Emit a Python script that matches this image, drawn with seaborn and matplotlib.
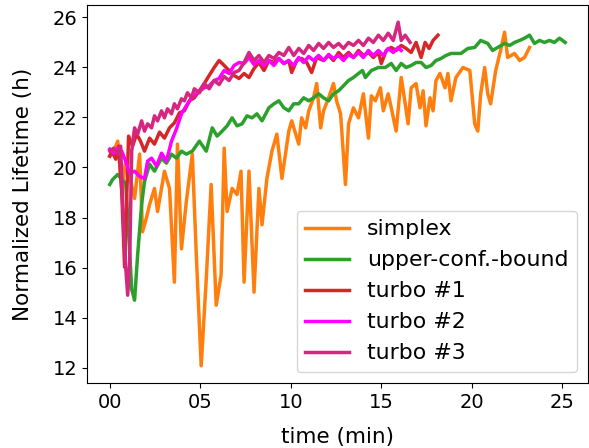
import numpy as np
import pandas as pd
import matplotlib
matplotlib.use("Agg")
import matplotlib.pyplot as plt
import seaborn as sns

# ---------------- data ----------------
simplex_t = [0.00, 0.22, 0.44, 0.66, 0.88, 1.10, 1.37, 1.65, 1.81, 2.03, 2.20, 2.47, 2.64, 3.02, 3.30,
             3.57, 3.74, 3.96, 4.23, 4.56, 4.78, 5.05, 5.33, 5.60, 5.88, 6.15, 6.32, 6.48, 6.76, 7.03,
             7.25, 7.42, 7.69, 7.97, 8.24, 8.41, 8.68, 8.96, 9.23, 9.51, 9.89, 10.05, 10.44, 10.60,
             10.82, 10.99, 11.26, 11.43, 11.65, 11.81, 12.09, 12.36, 12.53, 12.75, 13.02, 13.19, 13.46,
             13.74, 14.01, 14.29, 14.45, 14.67, 14.95, 15.11, 15.38, 15.55, 15.82, 16.10, 16.32, 16.48,
             16.65, 16.92, 17.14, 17.31, 17.47, 17.69, 17.86, 18.02, 18.24, 18.52, 18.68, 18.85, 19.12,
             19.51, 19.89, 20.16, 20.33, 20.49, 20.71, 20.88, 21.04, 21.32, 21.59, 21.81, 21.98, 22.36,
             22.64, 22.91, 23.19]
simplex_v = [20.45, 20.65, 21.05, 19.16, 20.25, 19.64, 18.76, 20.53, 17.43, 18.00, 18.52, 19.16, 18.24,
             19.85, 19.16, 15.42, 20.93, 16.75, 18.64, 20.53, 16.51, 12.08, 15.54, 19.32, 14.50, 15.70,
             20.77, 18.24, 19.16, 18.92, 19.85, 15.42, 19.85, 15.02, 19.16, 17.71, 19.56, 20.65, 21.33,
             19.56, 21.45, 21.86, 20.93, 21.98, 21.58, 22.26, 22.78, 23.35, 21.58, 22.26, 22.78, 23.35,
             22.66, 22.14, 19.32, 21.74, 22.38, 21.98, 22.94, 21.17, 22.86, 22.66, 23.18, 22.26, 22.94,
             22.38, 21.45, 23.59, 22.54, 21.74, 23.18, 23.35, 22.38, 23.06, 21.66, 22.78, 22.26, 23.47,
             23.75, 23.18, 23.75, 22.66, 23.59, 23.99, 23.87, 21.74, 21.45, 22.94, 23.99, 22.94, 22.54,
             23.87, 24.67, 25.40, 24.39, 24.55, 24.27, 24.39, 24.79]

ucb_t = [0.00, 0.16, 0.44, 0.66, 0.88, 1.04, 1.21, 1.37, 1.54, 1.76, 1.92, 2.20, 2.47, 2.86, 3.13, 3.41,
         3.68, 3.96, 4.23, 4.56, 4.95, 5.33, 5.66, 5.93, 6.21, 6.48, 6.76, 7.03, 7.31, 7.58, 7.86, 8.13,
         8.41, 8.79, 9.07, 9.34, 9.62, 9.89, 10.16, 10.44, 10.71, 10.99, 11.26, 11.54, 11.81, 12.09,
         12.36, 12.64, 12.91, 13.19, 13.46, 13.74, 13.96, 14.12, 14.45, 14.84, 15.22, 15.55, 15.82,
         16.10, 16.37, 16.65, 16.92, 17.20, 17.47, 17.75, 18.02, 18.30, 18.57, 18.85, 19.07, 19.40,
         19.78, 20.16, 20.49, 20.88, 21.15, 21.43, 21.81, 22.09, 22.36, 22.64, 22.91, 23.19, 23.46,
         23.74, 24.01, 24.29, 24.56, 24.84, 25.16]
ucb_v = [19.32, 19.52, 19.72, 19.52, 19.36, 17.43, 15.14, 14.70, 16.51, 18.52, 19.44, 20.13, 19.85,
         20.37, 20.17, 20.53, 20.37, 20.65, 20.53, 20.65, 21.05, 20.65, 21.58, 21.25, 21.45, 21.66,
         21.98, 21.66, 21.74, 22.06, 21.98, 22.14, 21.86, 22.38, 22.54, 22.66, 22.38, 22.26, 22.54,
         22.54, 22.78, 22.66, 22.78, 22.94, 22.78, 22.66, 22.94, 23.06, 23.26, 23.47, 23.59, 23.75,
         23.87, 23.59, 23.87, 23.99, 23.99, 24.15, 23.87, 24.15, 23.99, 24.07, 24.19, 24.19, 23.99,
         24.07, 24.27, 24.35, 24.47, 24.55, 24.55, 24.55, 24.75, 24.79, 25.07, 24.95, 24.67, 24.79,
         24.95, 24.87, 24.99, 25.07, 25.16, 25.28, 24.95, 25.07, 24.99, 25.07, 24.99, 25.16, 24.99]

turbo1_t = [0.00, 0.11, 0.33, 0.49, 0.66, 0.82, 0.93, 1.04, 1.26, 1.48, 1.70, 1.92, 2.20, 2.47, 2.75,
            3.02, 3.30, 3.57, 3.85, 4.12, 4.40, 4.67, 4.95, 5.22, 5.49, 5.77, 6.04, 6.32, 6.59, 6.87,
            7.14, 7.42, 7.69, 7.97, 8.24, 8.52, 8.79, 9.07, 9.34, 9.62, 9.89, 10.05, 10.33, 10.60,
            10.88, 11.15, 11.43, 11.81, 12.09, 12.36, 12.64, 12.91, 13.19, 13.46, 13.74, 14.01, 14.29,
            14.56, 14.84, 15.00, 15.27, 15.55, 15.82, 16.10, 16.37, 16.65, 16.92, 17.20, 17.42, 17.64,
            17.86, 18.13]
turbo1_v = [20.45, 20.65, 20.33, 20.85, 19.04, 16.02, 18.64, 21.25, 20.85, 21.33, 21.05, 20.65, 21.17,
            20.93, 21.41, 21.17, 21.58, 21.78, 22.18, 22.26, 22.66, 22.78, 23.06, 23.35, 23.67, 23.99,
            24.27, 24.07, 23.87, 23.67, 23.55, 23.75, 23.59, 23.95, 24.19, 23.87, 24.27, 24.19, 24.35,
            24.15, 24.27, 23.79, 24.27, 24.35, 24.19, 23.79, 24.39, 24.27, 24.47, 24.27, 24.59, 24.39,
            24.59, 24.39, 24.67, 24.47, 24.59, 24.39, 24.59, 24.15, 24.67, 24.79, 24.67, 24.87, 24.75,
            24.59, 24.99, 24.39, 24.99, 24.75, 25.07, 25.28]

turbo2_t = [0.00, 0.22, 0.44, 0.66, 0.88, 1.10, 1.37, 1.65, 1.92, 2.09, 2.31, 2.58, 2.86, 3.13, 3.41,
            3.68, 3.96, 4.23, 4.51, 4.84, 5.22, 5.49, 5.77, 6.04, 6.32, 6.59, 6.87, 7.14, 7.42, 7.69,
            7.97, 8.24, 8.52, 8.79, 9.07, 9.34, 9.62, 9.89, 10.16, 10.44, 10.71, 10.99, 11.26, 11.54,
            11.81, 12.09, 12.36, 12.64, 12.91, 13.19, 13.46, 13.74, 14.01, 14.29, 14.56, 14.84, 15.11,
            15.38, 15.66, 15.93, 16.10]
turbo2_v = [20.73, 20.57, 20.77, 20.65, 20.25, 19.76, 19.85, 19.64, 19.56, 20.25, 20.37, 20.05, 20.57,
            20.25, 21.05, 21.53, 22.14, 22.46, 22.78, 22.98, 23.18, 23.26, 23.47, 23.55, 23.87, 23.75,
            24.07, 24.19, 24.15, 24.39, 24.11, 24.27, 24.07, 24.27, 24.07, 24.35, 24.15, 24.27, 24.07,
            24.39, 24.19, 24.43, 24.27, 24.47, 24.27, 24.51, 24.35, 24.47, 24.27, 24.51, 24.39, 24.59,
            24.39, 24.67, 24.47, 24.67, 24.47, 24.75, 24.59, 24.79, 24.67]

turbo3_t = [0.00, 0.22, 0.44, 0.60, 0.71, 0.88, 0.99, 1.10, 1.21, 1.37, 1.54, 1.76, 1.92, 2.09, 2.31,
            2.47, 2.64, 2.86, 3.02, 3.19, 3.41, 3.57, 3.74, 3.96, 4.12, 4.29, 4.51, 4.67, 4.95, 5.22,
            5.49, 5.77, 6.04, 6.32, 6.59, 6.87, 7.14, 7.42, 7.69, 7.97, 8.24, 8.52, 8.79, 9.07, 9.34,
            9.62, 9.89, 10.16, 10.44, 10.71, 10.99, 11.26, 11.54, 11.81, 12.09, 12.36, 12.64, 12.91,
            13.19, 13.46, 13.74, 14.01, 14.29, 14.56, 14.84, 15.11, 15.38, 15.66, 15.93, 16.10, 16.32,
            16.59]
turbo3_v = [20.65, 20.77, 20.53, 20.85, 18.64, 16.02, 14.90, 16.20, 20.65, 21.58, 21.33, 21.86, 21.45,
            21.74, 21.58, 22.06, 21.86, 22.26, 21.98, 22.34, 22.14, 22.54, 22.34, 22.74, 22.66, 22.98,
            22.78, 23.14, 22.98, 23.35, 23.14, 23.47, 23.31, 23.63, 23.47, 23.79, 23.87, 24.19, 24.59,
            24.27, 24.47, 24.19, 24.47, 24.35, 24.59, 24.47, 24.79, 24.47, 24.75, 24.55, 24.87, 24.67,
            24.95, 24.75, 24.99, 24.79, 24.95, 24.75, 24.99, 24.87, 25.07, 24.87, 25.16, 24.99, 25.28,
            25.07, 25.36, 25.07, 25.80, 25.07, 25.28, 24.99]

methods = ["simplex", "upper-conf.-bound", "turbo #1", "turbo #2", "turbo #3"]
colors = ["#ff7f0e", "#2ca02c", "#d62728", "#ff00ff", "#d62780"]
x_ticks = [0, 5, 10, 15, 20, 25]
x_tick_labels = ["00", "05", "10", "15", "20", "25"]
y_ticks = [12, 14, 16, 18, 20, 22, 24, 26]

series = {
    "simplex": (simplex_t, simplex_v),
    "upper-conf.-bound": (ucb_t, ucb_v),
    "turbo #1": (turbo1_t, turbo1_v),
    "turbo #2": (turbo2_t, turbo2_v),
    "turbo #3": (turbo3_t, turbo3_v),
}
frames = []
for name in methods:
    t, v = series[name]
    frames.append(pd.DataFrame({"time": t, "lifetime": v, "method": name}))
df = pd.concat(frames, ignore_index=True)

# ---------------- plot ----------------
fig = plt.figure(figsize=(5.89, 4.48), dpi=100)
ax = fig.add_axes([0.1477, 0.1451, 0.8506, 0.8438])

sns.lineplot(data=df, x="time", y="lifetime", hue="method", hue_order=methods,
             palette=dict(zip(methods, colors)), estimator=None, sort=False,
             linewidth=2.5, ax=ax)

ax.set_xticks(x_ticks)
ax.set_xticklabels(x_tick_labels)
ax.set_yticks(y_ticks)
ax.tick_params(labelsize=14)
ax.set_xlabel("time (min)", fontsize=15.5, labelpad=11)
ax.set_ylabel("Normalized Lifetime (h)", fontsize=15.5, labelpad=14)

handles, labels = ax.get_legend_handles_labels()
ax.legend(handles, labels, loc="lower right", fontsize=15.8, title=None)

fig.savefig("out.png", dpi=100)
